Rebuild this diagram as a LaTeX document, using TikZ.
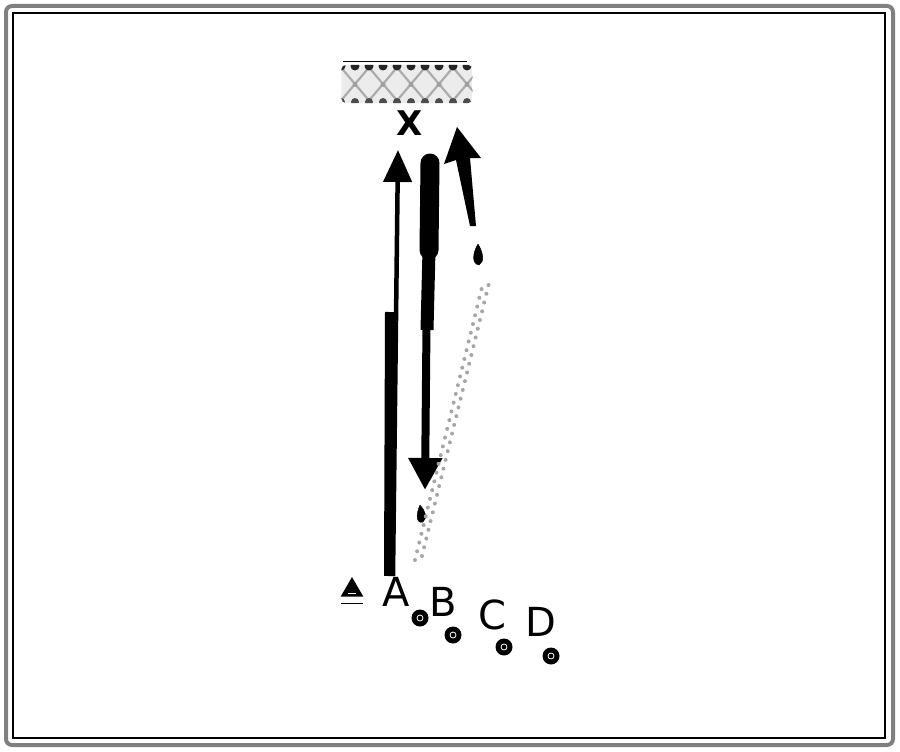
\documentclass[tikz,border=0pt]{standalone}
\usepackage{fontspec}
\setmainfont{DejaVu Sans}
\usetikzlibrary{arrows.meta,shapes.geometric}
\begin{document}
\begin{tikzpicture}[x=1pt,y=-1pt,
  lbl/.style={font=\fontsize{40}{44}\selectfont, inner sep=0pt},
  dotmark/.style={circle, fill=black, minimum size=17pt, inner sep=0pt},
  tear/.style={fill=black},
  dotline/.style={gray!70, line width=4pt, line cap=round, dash pattern=on 0pt off 9pt}
]
\useasboundingbox (0,0) rectangle (900,752);
% frame
\draw[gray, line width=4pt, rounded corners=6pt] (6,6) rectangle (893,745);
\draw[black, line width=1.2pt] (13,13) rectangle (885,738);

% patterned box
\node[minimum width=131pt, minimum height=38pt, inner sep=0pt] (box) at (407,84) {};
\begin{scope}
  \clip[rounded corners=5pt] (box.south west) rectangle (box.north east);
  \fill[gray!15] (box.south west) rectangle (box.north east);
  \foreach \k in {-2,...,6} {
    \draw[gray!65, line width=2.2pt] (327+28*\k,51) -- (383+28*\k,117);
    \draw[gray!65, line width=2.2pt] (383+28*\k,51) -- (327+28*\k,117);
    \fill[gray!75] (355+28*\k,84.5) circle (2.5pt);
  }
  \foreach \i in {0,...,10} {
    \fill[black!85] (341+14*\i,66) circle (4.5pt);
    \fill[black!70] (341+14*\i,102) circle (4pt);
  }
\end{scope}
\draw[black, line width=1pt] (343,62) -- (467,62);

% labels
\node[font=\fontsize{34}{38}\selectfont\bfseries, inner sep=0pt] (X) at (410,123) {X};
\node[lbl] (A) at (396,592) {A};
\node[lbl] (B) at (443,602) {B};
\node[lbl] (C) at (492,615) {C};
\node[lbl] (D) at (541,622) {D};

% small markers
\node[dotmark] (m1) at (420,618) {};
\node[dotmark] (m2) at (453,635) {};
\node[dotmark] (m3) at (504,647) {};
\node[dotmark] (m4) at (551,656) {};
\foreach \m in {m1,m2,m3,m4} \draw[white, line width=0.8pt] (\m) circle (3pt);

% small triangle
\node[regular polygon, regular polygon sides=3, fill=black, minimum size=26pt, inner sep=0pt] (t0) at (352,590) {};
\draw[white, line width=1pt] ([xshift=-4pt,yshift=-3pt]t0.center) -- ([xshift=4pt,yshift=-3pt]t0.center);
\draw[black, line width=1pt] (341,603) -- (363,603);

% connector A -> X
\coordinate (a0) at (393,576);
\coordinate (a1) at (398,150);
\draw[black, line width=10pt] (389,576) -- (390,312);
\draw[black, line width=4.5pt, -{Triangle[length=32pt, width=28pt]}] (a0) -- (a1);

% connector X -> B (filled down triangle)
\coordinate (b0) at (428,160);
\coordinate (b1) at (425,490);
\draw[black, line width=19pt, line cap=round] (430,163) -- (429,250);
\draw[black, line width=13pt] (429,250) -- (427,330);
\draw[black, line width=8pt, -{Triangle[length=32pt, width=32pt]}] (b0) -- (b1);
\draw[tear] (420,505) .. controls (425,510) and (428,518) .. (423,522) .. controls (417,524) and (415,516) .. (420,505);

% connector C -> X (dotted, then bold arrow)
\coordinate (c0) at (415,560);
\coordinate (c1) at (483,283);
\draw[dotline] (c0) -- (c1);
\draw[dotline] ([xshift=7pt,yshift=4pt]c0) -- ([xshift=7pt,yshift=4pt]c1);
\draw[tear] (478,244) .. controls (483,252) and (485,262) .. (479,265) .. controls (472,264) and (472,254) .. (478,244);
\coordinate (d0) at (473,226);
\coordinate (d1) at (457,127);
\fill[black] (d1) -- (444,164) -- (456,160) -- (470,226) -- (476,226) -- (470,158) -- (481,158) -- cycle;
\end{tikzpicture}
\end{document}
